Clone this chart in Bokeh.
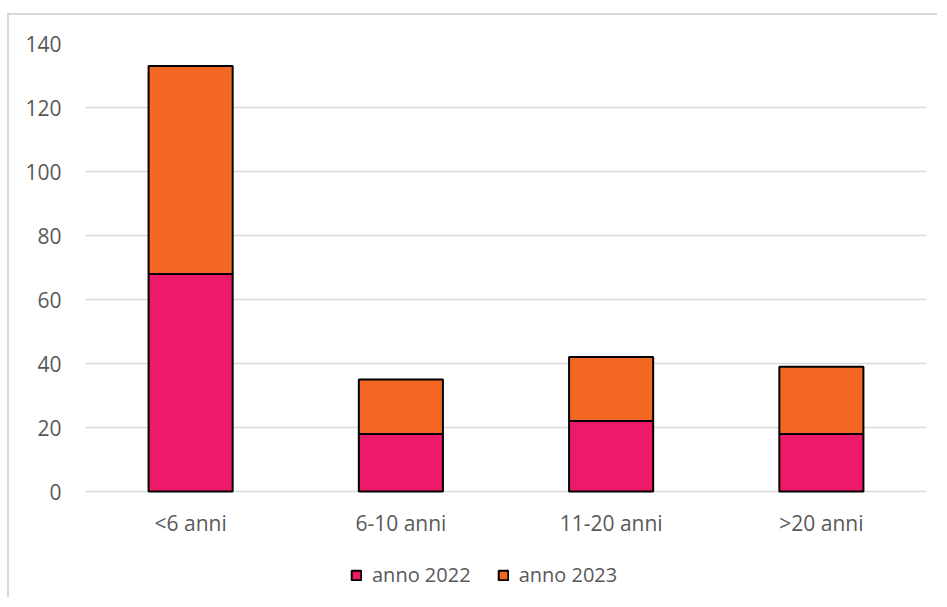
from bokeh.plotting import figure
from bokeh.models import Range1d, Legend, LegendItem, FactorRange
from bokeh.core.properties import value
from bokeh.embed import file_html
from bokeh.resources import INLINE

categories = ["<6 anni", "6-10 anni", "11-20 anni", ">20 anni"]
anno_2022 = [68, 18, 22, 18]
anno_2023 = [65, 17, 20, 21]
series = ["anno 2022", "anno 2023"]
colors = ["#ED1A6A", "#F26722"]
y_ticks = [0, 20, 40, 60, 80, 100, 120, 140]

data = {"cat": categories, "anno 2022": anno_2022, "anno 2023": anno_2023}

FONT = "Open Sans"
GREY = "#595959"

p = figure(x_range=FactorRange(*categories, range_padding=0.0),
           y_range=Range1d(-33.75, 140),
           width=930, height=584, output_backend="svg", toolbar_location=None,
           min_border_left=76, min_border_right=13, min_border_top=28, min_border_bottom=0)
p.styles = {"border-left": "2px solid #d9d9d9", "border-top": "2px solid #d9d9d9",
            "margin-left": "7px", "margin-top": "13px"}

renderers = p.vbar_stack(series, x="cat", width=0.4, source=data, color=colors,
                         line_color="black", line_width=2)

# category labels below the zero line
p.text(x=categories, y=[-9.7] * len(categories), text=categories,
       text_font=value(FONT), text_font_size="21px", text_color=GREY,
       text_align="center", text_baseline="middle")

p.outline_line_color = None
p.xgrid.grid_line_color = None
p.xaxis.visible = False
p.ygrid.grid_line_color = "#d9d9d9"
p.ygrid.grid_line_width = 1.5
p.yaxis.ticker = y_ticks
ax = p.yaxis[0]
ax.axis_line_color = None
ax.major_tick_line_color = None
ax.minor_tick_line_color = None
ax.major_label_text_font = FONT
ax.major_label_text_font_size = "21px"
ax.major_label_text_color = GREY
ax.major_label_standoff = 18

legend = Legend(items=[LegendItem(label=s, renderers=[r]) for s, r in zip(series, renderers)],
                orientation="horizontal", location=(265, 11),
                label_text_font=FONT, label_text_font_size="20px", label_text_color=GREY,
                glyph_width=12, glyph_height=12, spacing=26, label_standoff=10,
                border_line_color=None, background_fill_alpha=0, padding=8)
p.add_layout(legend, "center")

open("out.html", "w").write(file_html(p, INLINE))
